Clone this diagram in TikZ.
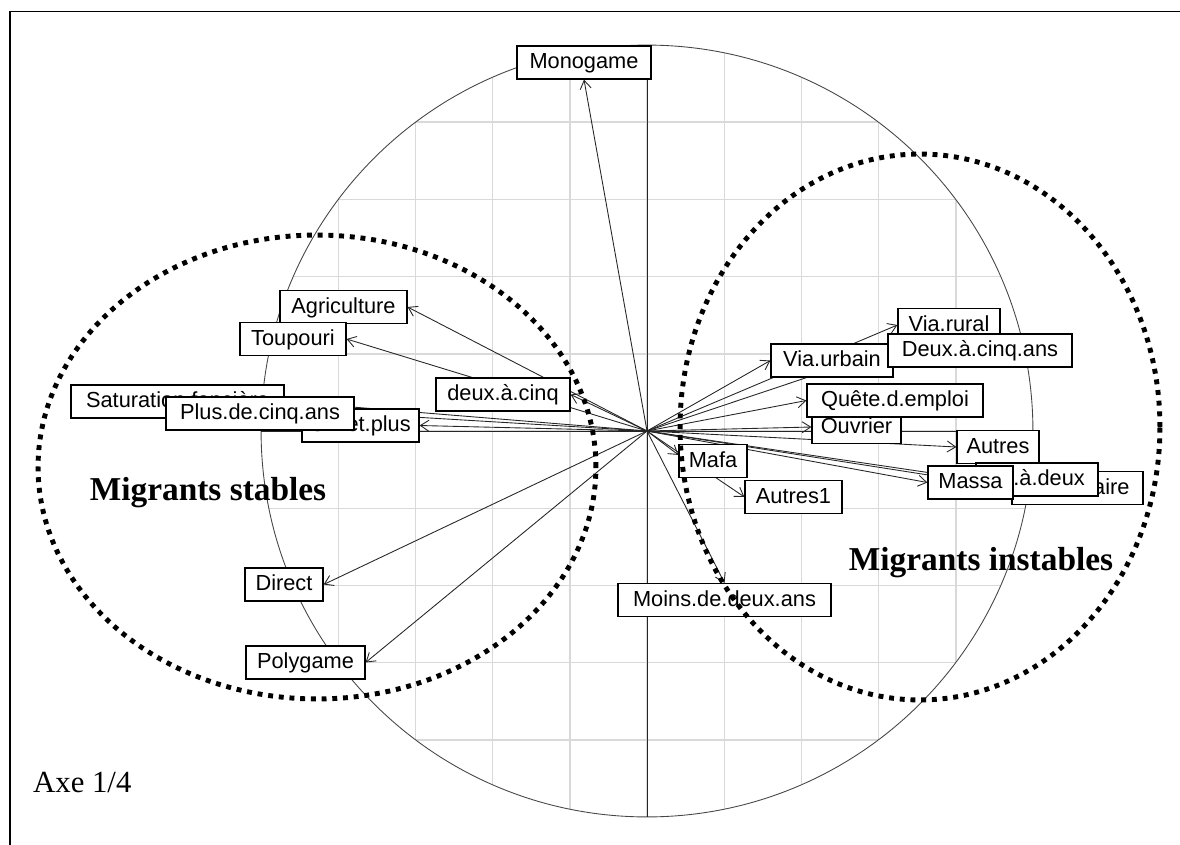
\documentclass[tikz,border=0pt]{standalone}
\usepackage{fontspec}
\setmainfont{Liberation Serif}
\newfontfamily\labelfont{Liberation Sans}
\usetikzlibrary{arrows.meta,backgrounds}
\definecolor{gridgrey}{RGB}{217,217,217}
\definecolor{circlegrey}{RGB}{70,70,70}

\begin{document}
\begin{tikzpicture}[x=0.02cm, y=-0.02cm,
    lbl/.style={rectangle, draw=black, line width=0.7pt, fill=white,
        minimum height=0.66cm, inner sep=0pt, text height=0.75em, text depth=0.05em,
        font=\labelfont\fontsize{12.4}{14}\selectfont},
    arr/.style={-{Straight Barb[length=1.7mm, width=2.2mm]}, line width=0.5pt, black!85},
    grp/.style={draw=black, line width=2.8pt, dash pattern=on 2.8pt off 3.3pt},
    grptxt/.style={font=\bfseries\fontsize{19}{22}\selectfont}
]
    \useasboundingbox (0,0) rectangle (1180,845);
    \coordinate (o) at (647,431);

    % grid, circle and axes
    \begin{scope}[on background layer]
        \begin{scope}
            \clip (o) circle[radius=7.72cm];
            \foreach \k in {-4,...,4} {
                \draw[gridgrey, line width=0.8pt] (647+\k*77.2,40) -- (647+\k*77.2,822);
                \draw[gridgrey, line width=0.8pt] (255,431+\k*77.2) -- (1040,431+\k*77.2);
            }
        \end{scope}
        \draw[circlegrey, line width=0.5pt] (o) circle[radius=7.72cm];
        \draw[black!85, line width=0.5pt] (647,45) -- (647,817);
        \draw[black!85, line width=0.5pt] (261,431) -- (1033,431);
    \end{scope}

    % frame
    \draw[line width=1.1pt] (10,845) -- (10,11.5) -- (1180,11.5);

    % variables, left side
    \node[lbl, minimum width=2.68cm] (mono) at (584,62.5) {Monogame};
    \node[lbl, minimum width=2.54cm] (agri) at (343.5,307) {Agriculture};
    \node[lbl, minimum width=2.12cm] (toup) at (293,339) {Toupouri};
    \node[lbl, minimum width=4.26cm] (satu) at (177.5,401.5) {Saturation.foncière};
    \node[lbl, minimum width=2.34cm] (sixp) at (360.5,425.5) {Six.et.plus};
    \node[lbl, minimum width=3.76cm] (plus5) at (260,413.5) {Plus.de.cinq.ans};
    \node[lbl, minimum width=2.68cm] (deux) at (503,394.5) {deux.à.cinq};
    \node[lbl, minimum width=1.56cm] (direct) at (284,584.5) {Direct};
    \node[lbl, minimum width=2.38cm] (poly) at (305.5,662.5) {Polygame};

    % variables, right side
    \node[lbl, minimum width=2.04cm] (viar) at (949,325) {Via.rural};
    \node[lbl, minimum width=2.44cm] (viau) at (832,360.5) {Via.urbain};
    \node[lbl, minimum width=3.68cm] (deuxans) at (980,350.5) {Deux.à.cinq.ans};
    \node[lbl, minimum width=1.78cm] (ouv) at (856.5,427) {Ouvrier};
    \node[lbl, minimum width=3.52cm] (quete) at (895,400.5) {Quête.d.emploi};
    \node[lbl, minimum width=1.64cm] (autres) at (998,447) {Autres};
    \node[lbl, minimum width=2.62cm] (celi) at (1077.5,488) {Célibataire};
    \node[lbl, minimum width=2.44cm] (inf) at (1037,479.5) {Inf.à.deux};
    \node[lbl, minimum width=1.70cm] (massa) at (970.5,482.5) {Massa};
    \node[lbl, minimum width=1.36cm] (mafa) at (713,461) {Mafa};
    \node[lbl, minimum width=1.94cm] (autres1) at (793.5,497) {Autres1};
    \node[lbl, minimum width=4.26cm] (moins) at (724.5,600) {Moins.de.deux.ans};

    % arrows from the origin
    \begin{scope}[on background layer]
        \draw[arr] (o) -- (mono.south);
        \draw[arr] (o) -- (agri.east);
        \draw[arr] (o) -- (toup.east);
        \draw[arr] (o) -- (satu.east);
        \draw[arr] (o) -- (plus5.east);
        \draw[arr] (o) -- (sixp.east);
        \draw[arr] (o) -- (deux.east);
        \draw[arr] (o) -- (direct.east);
        \draw[arr] (o) -- (poly.east);
        \draw[arr] (o) -- (viar.west);
        \draw[arr] (o) -- (viau.west);
        \draw[arr] (o) -- (deuxans.west);
        \draw[arr] (o) -- (quete.west);
        \draw[arr] (o) -- (ouv.west);
        \draw[arr] (o) -- (autres.west);
        \draw[arr] (o) -- (inf.west);
        \draw[arr] (o) -- (celi.west);
        \draw[arr] (o) -- (massa.west);
        \draw[arr] (o) -- (mafa.170);
        \draw[arr] (o) -- (autres1.west);
        \draw[arr] (o) -- (moins.north);
    \end{scope}

    % groups
    \draw[grp] (317,467) ellipse[x radius=5.58cm, y radius=4.64cm];
    \draw[grp] (920,427) ellipse[x radius=4.8cm, y radius=5.46cm];
    \node[grptxt] (stab) at (208,493) {Migrants stables};
    \node[grptxt] (instab) at (981,563) {Migrants instables};

    \node[anchor=west, font=\fontsize{17.5}{20}\selectfont] (axe) at (27,782) {Axe 1/4};
\end{tikzpicture}
\end{document}
